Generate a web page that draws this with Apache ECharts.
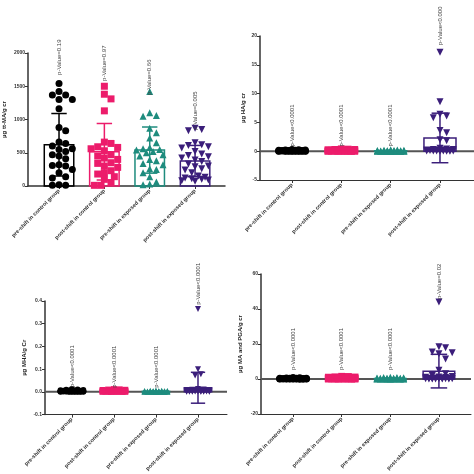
<!DOCTYPE html>
<html><head><meta charset="utf-8">
<script src="https://cdn.jsdelivr.net/npm/echarts@6/dist/echarts.min.js"></script>
<style>html,body{margin:0;padding:0;background:#fff}#c{width:474px;height:474px}</style>
</head><body><div id="c"></div>
<script>
// ---------- DATA ----------
const categories = ['pre-shift in control group','post-shift in control group','pre-shift in exposed group','post-shift in exposed group'];

// Panel 1: tt-MA
const ttmaTicks = [0, 500, 1000, 1500, 2000];
const ttmaPre_ctrl  = [1540,1420,1370,1370,1300,1300,1160,880,830,660,640,600,560,550,520,470,450,410,320,310,300,250,200,140,120,20,10,10];
const ttmaPost_ctrl = [1500,1380,1310,1130,660,640,590,580,560,530,470,450,420,400,350,340,300,280,230,200,180,140,100,50,10,10];
const ttmaPre_exp   = [1420,1100,1060,1050,870,800,720,650,580,560,550,540,520,500,470,450,400,380,340,320,260,250,200,140,60,30,20];
const ttmaPost_exp  = [870,850,830,650,620,610,590,570,520,480,460,440,420,390,370,330,300,290,260,240,200,150,130,120,110,100,90,80,70];
const ttmaMeans = [620, 515, 540, 375];
const ttmaSD    = [470, 425, 347, 235];
const ttmaPText = ['p-Value=0.19','p-Value=0.97','p-Value=0.66','p-Value=0.005'];
const ttmaPPos  = [1670, 1580, 1370, 840];

// Panel 2: HA
const haTicks = [-5, 0, 5, 10, 15, 20];
const haPre_ctrl  = [0.3,0.25,0.2,0.2,0.15,0.15,0.1,0.1,0.1,0.08,0.08,0.05,0.05,0.05,0.04,0.03,0.03,0.02,0.02,0.02,0.01,0.01,0.01,0,0,0,0,0];
const haPost_ctrl = [0.4,0.35,0.3,0.3,0.25,0.2,0.2,0.15,0.15,0.1,0.1,0.1,0.08,0.05,0.05,0.04,0.03,0.02,0.02,0.01,0.01,0,0,0,0,0];
const haPre_exp   = [0.25,0.2,0.15,0.15,0.1,0.1,0.08,0.08,0.05,0.05,0.05,0.04,0.03,0.03,0.02,0.02,0.02,0.01,0.01,0.01,0,0,0,0,0,0,0];
const haPost_exp  = [17.2,8.6,6.4,6.1,5.8,3.6,3.2,2.0,1.8,0.5,0.4,0.3,0.3,0.2,0.2,0.2,0.1,0.1,0.1,0.1,0.05,0.05,0.05,0.02,0.02,0.01,0.01,0.01];
const haMeans = [0.08, 0.12, 0.07, 2.3];
const haSD    = [0.08, 0.12, 0.07, 4.3];
const haPText = ['p-Value<0.0001','p-Value<0.0001','p-Value<0.0001','p-Value<0.000'];
const haPPos  = [0.8, 0.8, 0.8, 18.4];

// Panel 3: MHA
const mhaTicks = [-0.1, 0.0, 0.1, 0.2, 0.3, 0.4];
const mhaPre_ctrl  = [0.012,0.01,0.009,0.008,0.007,0.006,0.006,0.005,0.005,0.004,0.004,0.003,0.003,0.003,0.002,0.002,0.002,0.001,0.001,0.001,0.001,0,0,0,0,0,0,0];
const mhaPost_ctrl = [0.012,0.011,0.01,0.009,0.008,0.008,0.007,0.006,0.006,0.005,0.005,0.004,0.004,0.003,0.003,0.002,0.002,0.001,0.001,0.001,0,0,0,0,0,0];
const mhaPre_exp   = [0.006,0.005,0.005,0.004,0.004,0.003,0.003,0.003,0.002,0.002,0.002,0.002,0.001,0.001,0.001,0.001,0.001,0,0,0,0,0,0,0,0,0,0];
const mhaPost_exp  = [0.365,0.1,0.078,0.072,0.012,0.01,0.009,0.008,0.007,0.006,0.005,0.005,0.004,0.004,0.003,0.003,0.002,0.002,0.002,0.001,0.001,0.001,0,0,0,0,0,0];
const mhaMeans = [0.003, 0.004, 0.002, 0.018];
const mhaSD    = [0.003, 0.004, 0.002, 0.068];
const mhaPText = ['p-Value<0.0001','p-Value<0.0001','p-Value<0.0001','p-Value<0.0001'];
const mhaPPos  = [0.02, 0.018, 0.018, 0.383];

// Panel 4: MA and PGA
const mapgaTicks = [-20, 0, 20, 40, 60];
const mapgaPre_ctrl  = [0.8,0.7,0.6,0.5,0.5,0.4,0.4,0.3,0.3,0.3,0.2,0.2,0.2,0.1,0.1,0.1,0.1,0.05,0.05,0.05,0,0,0,0,0,0,0,0];
const mapgaPost_ctrl = [1.5,1.4,1.2,1.1,1.0,0.9,0.8,0.8,0.7,0.6,0.5,0.5,0.4,0.3,0.3,0.2,0.2,0.1,0.1,0.05,0,0,0,0,0,0];
const mapgaPre_exp   = [1.0,0.9,0.8,0.7,0.6,0.5,0.5,0.4,0.4,0.3,0.3,0.2,0.2,0.2,0.1,0.1,0.1,0.05,0.05,0,0,0,0,0,0,0,0];
const mapgaPost_exp  = [44,18.5,17.8,15.5,15,14.5,11.5,5,3,2,1.5,1.2,1,0.8,0.6,0.5,0.4,0.3,0.3,0.2,0.2,0.1,0.1,0.05,0.05,0,0,0];
const mapgaMeans = [0.25, 0.45, 0.3, 4.5];
const mapgaSD    = [0.25, 0.45, 0.3, 9.6];
const mapgaPText = ['p-Value<0.0001','p-Value<0.0001','p-Value<0.0001','p-Value=0.02'];
const mapgaPPos  = [5.1, 5.1, 5.1, 45.7];

// ---------- STYLE / LAYOUT ----------
const colors  = ['#000000', '#ec1c6b', '#1e8c7e', '#3b1e7a'];
const symbols = ['circle', 'rect', 'triangle', 'triangle'];
const symRot  = [0, 0, 0, 180];

const panels = [
  { name:'µg tt-MA/g cr', ticks:ttmaTicks, pts:[ttmaPre_ctrl,ttmaPost_ctrl,ttmaPre_exp,ttmaPost_exp], means:ttmaMeans, sd:ttmaSD, ptext:ttmaPText, ppos:ttmaPPos,
    grid:{left:28, top:53, width:197, height:133}, xmin:-0.684, xmax:3.66, nameGap:21, size:7, zeroLine:false, fmt:v=>String(v) },
  { name:'µg HA/g cr', ticks:haTicks, pts:[haPre_ctrl,haPost_ctrl,haPre_exp,haPost_exp], means:haMeans, sd:haSD, ptext:haPText, ppos:haPPos,
    grid:{left:260, top:36, width:214, height:144}, xmin:-0.65, xmax:3.69, nameGap:14, size:7, zeroLine:true, fmt:v=>String(v) },
  { name:'µg MHA/g Cr', ticks:mhaTicks, pts:[mhaPre_ctrl,mhaPost_ctrl,mhaPre_exp,mhaPost_exp], means:mhaMeans, sd:mhaSD, ptext:mhaPText, ppos:mhaPPos,
    grid:{left:45, top:301, width:182, height:121}, xmin:-0.64, xmax:3.69, nameGap:18, size:6, zeroLine:true, fmt:v=>v.toFixed(1) },
  { name:'µg MA and PGA/g cr', ticks:mapgaTicks, pts:[mapgaPre_ctrl,mapgaPost_ctrl,mapgaPre_exp,mapgaPost_exp], means:mapgaMeans, sd:mapgaSD, ptext:mapgaPText, ppos:mapgaPPos,
    grid:{left:261, top:274, width:210, height:140}, xmin:-0.66, xmax:3.66, nameGap:18, size:7, zeroLine:true, fmt:v=>String(v) }
];

function swarm(vals, pxPerUnit, spacing, size, maxHalf){
  const idx = vals.map((v,i)=>i).sort((a,b)=>vals[b]-vals[a]);
  const placed = []; const off = new Array(vals.length);
  const d = size*0.95, step = d*0.5;
  const cands=[0];
  for(let k=1;k*step<=maxHalf;k++){cands.push(k*step,-k*step);}
  for (const i of idx){
    const y = vals[i]*pxPerUnit;
    let best = 0, bestScore=-1;
    for (const c of cands){
      let minD = Infinity;
      for (const p of placed){ const dd=Math.hypot(p[0]-c,p[1]-y); if(dd<minD) minD=dd; }
      if (minD>=d){best=c;break;}
      if (minD>bestScore){bestScore=minD;best=c;}
    }
    placed.push([best,y]); off[i]=best/spacing;
  }
  return off;
}

const option = { animation:false, backgroundColor:'#fff', grid:[], xAxis:[], yAxis:[], series:[] };
const axisColor = '#333';
const barW = 0.65, capW = 0.34;

panels.forEach((p, gi) => {
  option.grid.push(Object.assign({}, p.grid));
  const ymin = p.ticks[0], ymax = p.ticks[p.ticks.length-1], step = p.ticks[1]-p.ticks[0];
  option.xAxis.push({
    gridIndex:gi, type:'value', min:p.xmin, max:p.xmax,
    axisLine:{show:true, onZero:false, lineStyle:{color:axisColor, width: gi===0?1.5:1}},
    axisTick:{show:true, customValues:[0,1,2,3], length:3, lineStyle:{color:axisColor}},
    axisLabel:{show:true, customValues:[0,1,2,3], rotate:45, fontSize:5.5, fontWeight:'bold', color:'#333', margin:4,
      fontFamily:'Liberation Sans, Arial, sans-serif', formatter:v=>categories[Math.round(v)]},
    splitLine:{show:false}
  });
  option.yAxis.push({
    gridIndex:gi, type:'value', min:ymin, max:ymax, interval:step,
    axisLine:{show:true, onZero:false, lineStyle:{color:axisColor, width:1.5}},
    axisTick:{show:true, length:3, lineStyle:{color:axisColor}},
    axisLabel:{fontSize:5, fontWeight:'bold', color:'#333', margin:3, fontFamily:'Liberation Sans, Arial, sans-serif', formatter:p.fmt},
    splitLine:{show:false},
    name:p.name, nameLocation:'middle', nameGap:p.nameGap,
    nameTextStyle:{fontSize:6, fontWeight:'bold', color:'#222', fontFamily:'Liberation Sans, Arial, sans-serif'}
  });
  const pxPerUnit = p.grid.height/(ymax-ymin);
  const spacing = p.grid.width/(p.xmax-p.xmin);

  if (p.zeroLine) {
    option.series.push({
      type:'custom', xAxisIndex:gi, yAxisIndex:gi, z:1, silent:true,
      data:[[0,0]],
      renderItem:(params, api)=>{
        const a = api.coord([p.xmin, 0]), b = api.coord([p.xmax, 0]);
        return {type:'line', shape:{x1:a[0],y1:a[1],x2:b[0],y2:b[1]}, style:{stroke:'#555', lineWidth:2}};
      }
    });
  }

  p.pts.forEach((vals, g) => {
    const off = swarm(vals, pxPerUnit, spacing, p.size, spacing*0.3);
    option.series.push({
      type:'scatter', xAxisIndex:gi, yAxisIndex:gi, z:2, silent:true,
      symbol:symbols[g], symbolRotate:symRot[g], symbolSize:p.size,
      itemStyle:{color:colors[g], opacity:1},
      data: vals.map((v,i)=>[g+off[i], v])
    });
  });

  option.series.push({
    type:'custom', xAxisIndex:gi, yAxisIndex:gi, z:3, silent:true,
    data: p.means.map((m,i)=>[i, m, p.sd[i]]),
    renderItem:(params, api)=>{
      const x = api.value(0), m = api.value(1), sd = api.value(2);
      const col = colors[params.dataIndex];
      const a = api.coord([x-barW/2, m]), b = api.coord([x+barW/2, 0]);
      const top = api.coord([x, m+sd]), bot = api.coord([x, m-sd]);
      const c1 = api.coord([x-capW/2, m+sd]), c2 = api.coord([x+capW/2, m+sd]);
      const d1 = api.coord([x-capW/2, m-sd]), d2 = api.coord([x+capW/2, m-sd]);
      const st = {stroke:col, lineWidth:1.5, fill:null};
      return {type:'group', children:[
        {type:'rect', shape:{x:a[0], y:Math.min(a[1],b[1]), width:b[0]-a[0], height:Math.abs(b[1]-a[1])}, style:{stroke:col, lineWidth:1.5, fill:'rgba(0,0,0,0)'}},
        {type:'line', shape:{x1:top[0],y1:top[1],x2:bot[0],y2:bot[1]}, style:st},
        {type:'line', shape:{x1:c1[0],y1:c1[1],x2:c2[0],y2:c2[1]}, style:st},
        {type:'line', shape:{x1:d1[0],y1:d1[1],x2:d2[0],y2:d2[1]}, style:st}
      ]};
    }
  });

  option.series.push({
    type:'custom', xAxisIndex:gi, yAxisIndex:gi, z:4, silent:true,
    data: p.ppos.map((v,i)=>[i, v]),
    renderItem:(params, api)=>{
      const c = api.coord([api.value(0), api.value(1)]);
      return {type:'text', x:c[0], y:c[1], rotation:Math.PI/2,
        style:{text:p.ptext[params.dataIndex], fontSize:6, fill:'#444', align:'left', verticalAlign:'middle',
          fontFamily:'Liberation Sans, Arial, sans-serif'}};
    }
  });
});

const chart = echarts.init(document.getElementById('c'), null, {renderer:'canvas'});
chart.setOption(option);
</script>
</body></html>
